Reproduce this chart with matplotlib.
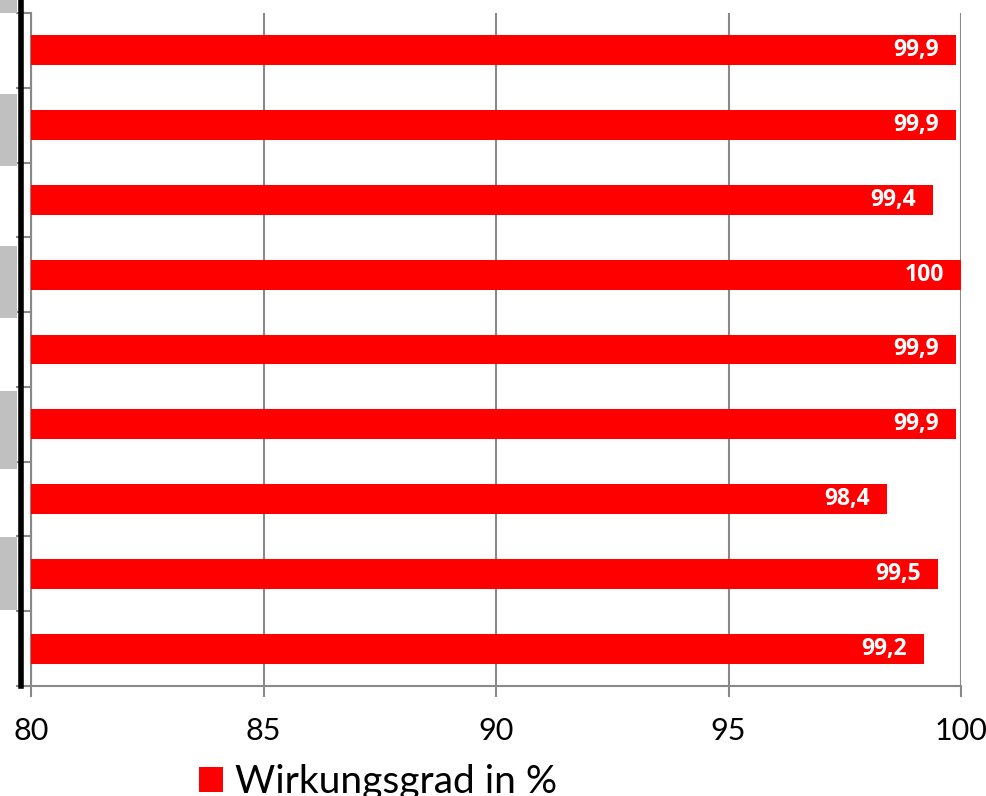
import matplotlib
matplotlib.use("Agg")
import matplotlib.pyplot as plt
from matplotlib.patches import Rectangle
from matplotlib.lines import Line2D
import numpy as np

categories = ["A", "B", "C", "D", "E", "F", "G", "H", "I"]
values = [99.9, 99.9, 99.4, 100, 99.9, 99.9, 98.4, 99.5, 99.2]
value_labels = ["99,9", "99,9", "99,4", "100", "99,9", "99,9", "98,4", "99,5", "99,2"]
xticks = [80, 85, 90, 95, 100]
series_name = "Wirkungsgrad in %"

plt.rcParams['font.family'] = ['Lato', 'DejaVu Sans']

W, H = 987, 796
fig = plt.figure(figsize=(W / 100, H / 100), dpi=100)
L, R, T, B = 31, 961, 13, 686
ax = fig.add_axes([L / W, 1 - B / H, (R - L) / W, (B - T) / H])

GRAY = "#898989"
ypos = np.arange(len(categories))
ax.barh(ypos, [v - 80 for v in values], left=80, height=0.4, color="#FF0000",
        zorder=3, label=series_name)
for y, v, lab in zip(ypos, values, value_labels):
    ax.annotate(lab, (v, y), xytext=(-17, 0), textcoords="offset pixels",
                ha="right", va="center", color="white", fontsize=16.5, fontweight="bold",
                family=["Open Sans", "DejaVu Sans"], zorder=4)

ax.set_xlim(80, 100)
ax.set_ylim(len(categories) - 0.5, -0.5)
ax.set_xticks(xticks)
ax.set_xticklabels([str(t) for t in xticks], fontsize=22)
ax.set_yticks([])
ax.set_yticks(np.arange(-0.5, len(categories)), minor=True)
ax.tick_params(axis="y", which="minor", length=11, width=1.5, color=GRAY, direction="out")
ax.tick_params(axis="x", length=8, width=1.5, color=GRAY, pad=14)
ax.grid(axis="x", color=GRAY, linewidth=1.5, zorder=0)
for s in ["top", "right"]:
    ax.spines[s].set_visible(False)
for s in ["left", "bottom"]:
    ax.spines[s].set_color(GRAY)
    ax.spines[s].set_linewidth(1.5)

# left-side decorations (cropped neighbouring element)
for y0, y1 in [(0, 13), (94, 166), (246, 318), (391, 469), (537, 610)]:
    fig.add_artist(Rectangle((0, 1 - y1 / H), 17 / W, (y1 - y0) / H,
                             transform=fig.transFigure, color="#C0C0C0", lw=0, zorder=1))
fig.add_artist(Line2D([20.5 / W, 20.5 / W], [1, 1 - 686 / H], transform=fig.transFigure,
                      color="black", linewidth=4, zorder=2))

leg = fig.legend(loc="upper left", bbox_to_anchor=(199 / W, 1 - 764 / H), frameon=False,
                 fontsize=28, handlelength=0.62, handleheight=0.62, handletextpad=0.31,
                 borderpad=0, borderaxespad=0)

fig.savefig("out.png", dpi=100)
